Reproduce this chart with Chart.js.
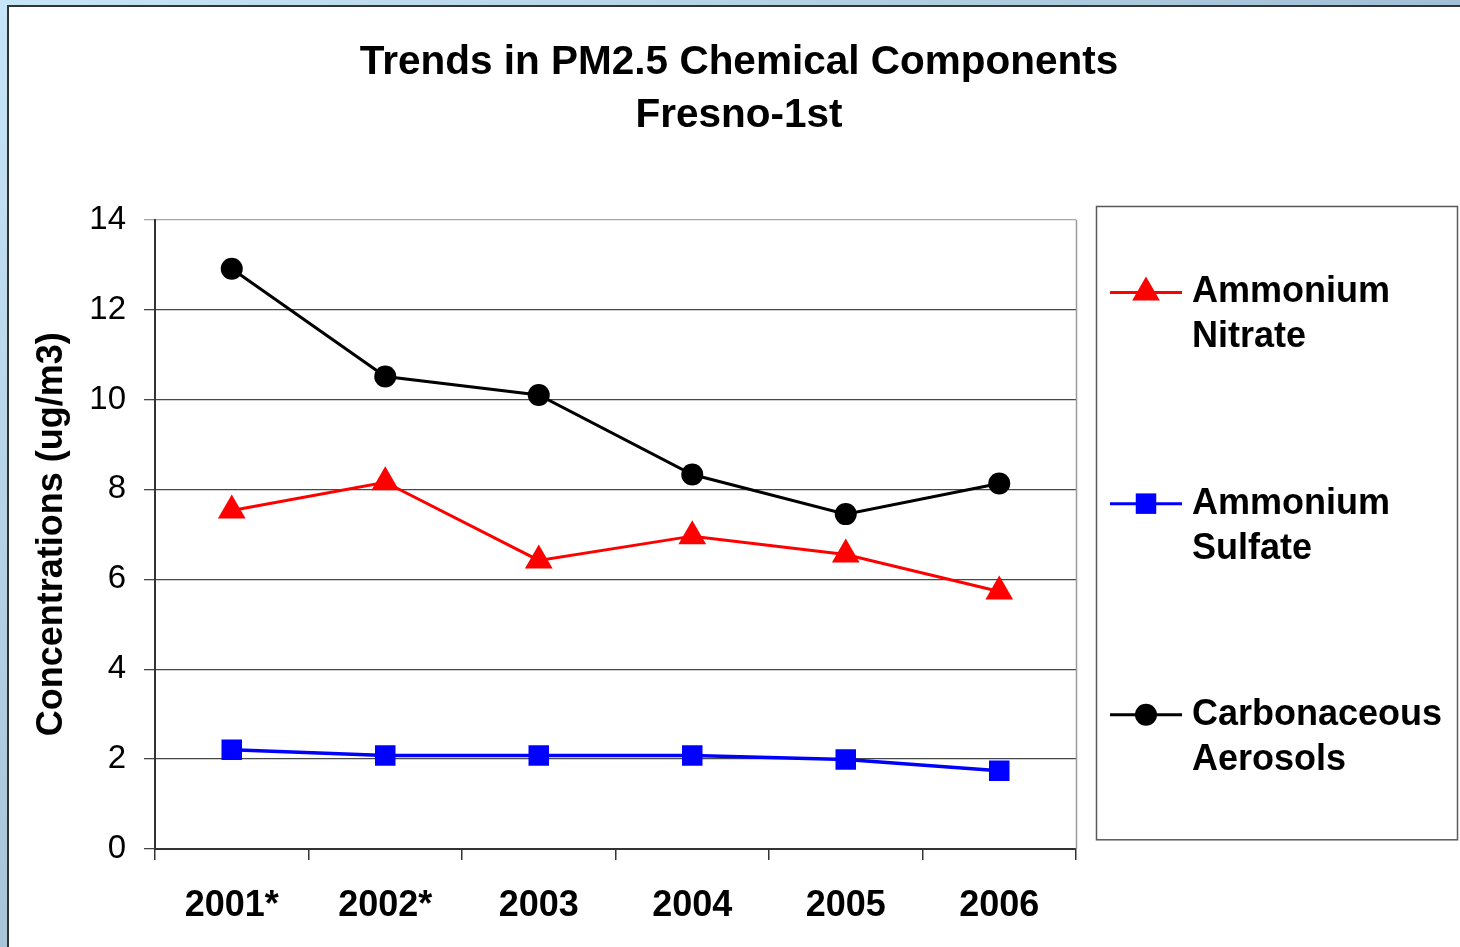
<!DOCTYPE html>
<html>
<head>
<meta charset="utf-8">
<script src="https://cdn.jsdelivr.net/npm/chart.js@4.4.1/dist/chart.umd.min.js"></script>
<style>
  html, body { margin: 0; padding: 0; }
  body { width: 1460px; height: 947px; overflow: hidden; background: #fff; position: relative; }
  #topband { position: absolute; left: 0; top: 0; width: 1460px; height: 5px; background: linear-gradient(to right, #c7e5f8, #a3bfd5); }
  #leftband { position: absolute; left: 0; top: 0; width: 7px; height: 947px; background: linear-gradient(to bottom, #c7e5f8, #a7c4d9); }
  #frame { position: absolute; left: 7px; top: 5px; width: 1453px; height: 942px; border-left: 2px solid #333; border-top: 2px solid #333; box-sizing: border-box; background: #fff; }
  #c { position: absolute; left: 9px; top: 7px; }
</style>
</head>
<body>
<div id="topband"></div>
<div id="leftband"></div>
<div id="frame"></div>
<canvas id="c" width="1451" height="940"></canvas>
<script>
const categories = ['2001*', '2002*', '2003', '2004', '2005', '2006'];
const nitrate = [7.53, 8.16, 6.42, 6.96, 6.55, 5.73];
const sulfate = [2.21, 2.08, 2.08, 2.08, 1.99, 1.74];
const carbon = [12.91, 10.51, 10.10, 8.33, 7.45, 8.13];
const seriesNames = ['Ammonium Nitrate', 'Ammonium Sulfate', 'Carbonaceous Aerosols'];
const titleLines = ['Trends in PM2.5 Chemical Components', 'Fresno-1st'];
const yTitle = 'Concentrations (ug/m3)';

const FONT = "'Liberation Sans', Arial, Helvetica, sans-serif";

function drawMarker(ctx, style, r, x, y, color) {
  ctx.save();
  ctx.fillStyle = color;
  ctx.beginPath();
  if (style === 'triangle') {
    let rad = 0;
    ctx.moveTo(x + Math.sin(rad) * r, y - Math.cos(rad) * r);
    rad += 2 * Math.PI / 3;
    ctx.lineTo(x + Math.sin(rad) * r, y - Math.cos(rad) * r);
    rad += 2 * Math.PI / 3;
    ctx.lineTo(x + Math.sin(rad) * r, y - Math.cos(rad) * r);
    ctx.closePath();
  } else if (style === 'rect') {
    const s = r * Math.SQRT1_2;
    ctx.rect(x - s, y - s, 2 * s, 2 * s);
  } else {
    ctx.arc(x, y, r, 0, Math.PI * 2);
  }
  ctx.fill();
  ctx.restore();
}

const boxLegend = {
  id: 'boxLegend',
  afterDraw(chart) {
    const ctx = chart.ctx;
    const ca = chart.chartArea;
    // plot area right border
    ctx.save();
    ctx.strokeStyle = '#9a9a9a';
    ctx.lineWidth = 1.5;
    ctx.beginPath();
    ctx.moveTo(Math.round(ca.right) + 0.5, ca.top);
    ctx.lineTo(Math.round(ca.right) + 0.5, ca.bottom);
    ctx.stroke();
    ctx.restore();

    const left = ca.right + 20, right = chart.width - 3;
    const top = ca.top - 13.7, bottom = ca.bottom - 9.7;
    ctx.save();
    ctx.strokeStyle = '#5a5a5a';
    ctx.lineWidth = 1.5;
    ctx.strokeRect(left + 0.5, top + 0.5, right - left, bottom - top);
    const n = chart.data.datasets.length;
    const h = (bottom - top) / n;
    chart.data.datasets.forEach((ds, i) => {
      const cy = top + (i + 0.5) * h;
      const ly = cy - 19;
      ctx.strokeStyle = ds.borderColor;
      ctx.lineWidth = 3;
      ctx.beginPath();
      ctx.moveTo(left + 14, ly);
      ctx.lineTo(left + 86, ly);
      ctx.stroke();
      drawMarker(ctx, ds.pointStyle, ds.pointRadius, left + 50, ly, ds.borderColor);
      const words = ds.label.split(' ');
      ctx.fillStyle = '#000';
      ctx.font = 'bold 36px ' + FONT;
      ctx.textAlign = 'left';
      ctx.textBaseline = 'middle';
      ctx.fillText(words[0], left + 96, ly);
      ctx.fillText(words.slice(1).join(' '), left + 96, ly + 45);
    });
    ctx.restore();
  }
};

new Chart(document.getElementById('c'), {
  type: 'line',
  data: {
    labels: categories,
    datasets: [
      { label: seriesNames[0], data: nitrate, borderColor: '#ff0000', backgroundColor: '#ff0000',
        pointBackgroundColor: '#ff0000', pointBorderColor: '#ff0000', pointStyle: 'triangle',
        pointRadius: 16, pointBorderWidth: 0, borderWidth: 3 },
      { label: seriesNames[1], data: sulfate, borderColor: '#0000ff', backgroundColor: '#0000ff',
        pointBackgroundColor: '#0000ff', pointBorderColor: '#0000ff', pointStyle: 'rect',
        pointRadius: 14.5, pointBorderWidth: 0, borderWidth: 3.5 },
      { label: seriesNames[2], data: carbon, borderColor: '#000000', backgroundColor: '#000000',
        pointBackgroundColor: '#000000', pointBorderColor: '#000000', pointStyle: 'circle',
        pointRadius: 11, pointBorderWidth: 0, borderWidth: 3 }
    ]
  },
  options: {
    responsive: false,
    animation: false,
    devicePixelRatio: 1,
    layout: { padding: { left: 9, right: 0, top: 0, bottom: 0 } },
    plugins: {
      legend: { display: false },
      tooltip: { enabled: false },
      title: {
        display: true,
        text: titleLines,
        color: '#000',
        font: { family: FONT, size: 40.5, weight: 'bold', lineHeight: 1.29 },
        padding: { top: 30, bottom: 78.2 }
      }
    },
    scales: {
      x: {
        type: 'category',
        offset: true,
        grid: { display: true, drawOnChartArea: false, drawTicks: true, tickLength: 11, offset: true, color: '#333', lineWidth: 1.5 },
        border: { display: true, color: '#333', width: 2 },
        ticks: { color: '#000', padding: 24, font: { family: FONT, size: 36, weight: 'bold', lineHeight: 1.2 }, maxRotation: 0, autoSkip: false },
        afterFit(s) { s.height = 98; }
      },
      y: {
        min: 0, max: 14,
        ticks: { stepSize: 2, color: '#000', padding: 18, font: { family: FONT, size: 33 } },
        grid: { drawTicks: true, tickLength: 11,
          color: (c) => (c.tick && c.tick.value === 14) ? '#a8a8a8' : '#474747', lineWidth: 1.3 },
        border: { display: true, color: '#333', width: 2 },
        title: { display: true, text: yTitle, color: '#000', padding: { top: 12, bottom: 0 },
          font: { family: FONT, size: 36, weight: 'bold', lineHeight: 1.2 } },
        afterFit(s) { s.width = 137; }
      },
      yR: {
        position: 'right',
        display: true,
        min: 0, max: 1,
        ticks: { display: false },
        grid: { display: false, drawTicks: false },
        border: { display: false },
        afterFit(s) { s.width = 384; }
      }
    }
  },
  plugins: [boxLegend]
});
</script>
</body>
</html>
